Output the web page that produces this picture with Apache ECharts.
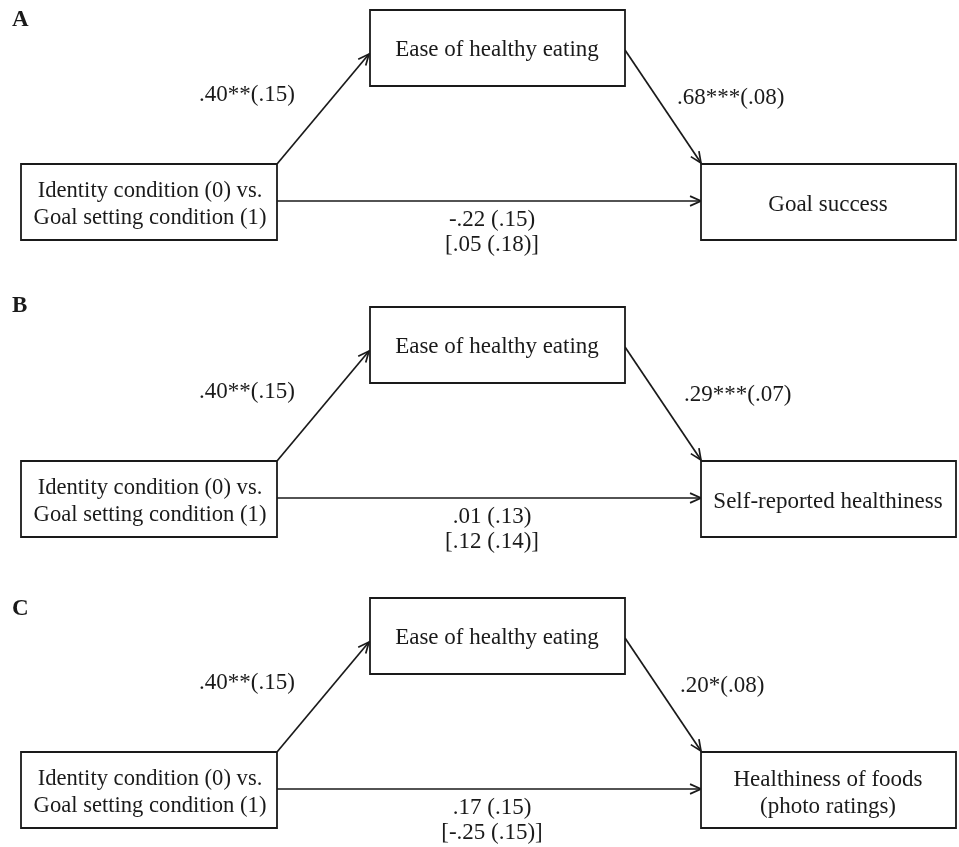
<!DOCTYPE html>
<html>
<head>
<meta charset="utf-8">
<title>Mediation models</title>
<script src="https://cdn.jsdelivr.net/npm/echarts@6/dist/echarts.min.js"></script>
<style>
  html, body { margin: 0; padding: 0; background: #fff; }
  #chart { width: 959px; height: 847px; }
</style>
</head>
<body>
<div id="chart"></div>
<script>
// Panel letters and the three mediation models
const panelLabels = ['A', 'B', 'C'];
const predictorText = 'Identity condition (0) vs.\nGoal setting condition (1)';
const mediatorText = ['Ease of healthy eating', 'Ease of healthy eating', 'Ease of healthy eating'];
const outcomeText = ['Goal success', 'Self-reported healthiness', 'Healthiness of foods\n(photo ratings)'];

// Path estimates (SE): a = predictor -> mediator, b = mediator -> outcome,
// direct = predictor -> outcome with mediator, total in brackets
const pathA = ['.40**(.15)', '.40**(.15)', '.40**(.15)'];
const pathB = ['.68***(.08)', '.29***(.07)', '.20*(.08)'];
const pathDirect = ['-.22 (.15)', '.01 (.13)', '.17 (.15)'];
const pathTotal = ['[.05 (.18)]', '[.12 (.14)]', '[-.25 (.15)]'];

// Vertical placement of each panel (top of mediator box), its letter,
// and the left edge of the b-path label
const panelTop = [10, 307, 598];
const letterY = [20, 306, 609];
const pathBLeft = [677, 684, 680];

const FONT = '"Liberation Serif", "Times New Roman", serif';
const INK = '#1a1a1a';

const chart = echarts.init(document.getElementById('chart'), null, { renderer: 'canvas' });

function renderPanel(params, api) {
  const i = params.dataIndex;
  const t = panelTop[i];
  const P = (x, y) => api.coord([x, y]);
  const children = [];

  function box(x0, y0, x1, y1) {
    const a = P(x0, y0), b = P(x1, y1);
    children.push({
      type: 'rect',
      shape: { x: a[0], y: a[1], width: b[0] - a[0], height: b[1] - a[1] },
      style: { fill: '#fff', stroke: INK, lineWidth: 1.8 }
    });
  }
  function arrow(x0, y0, x1, y1) {
    const a = P(x0, y0), b = P(x1, y1);
    children.push({
      type: 'line',
      shape: { x1: a[0], y1: a[1], x2: b[0], y2: b[1] },
      style: { stroke: INK, lineWidth: 1.7 }
    });
    const ang = Math.atan2(b[1] - a[1], b[0] - a[0]);
    const len = 12, spread = 0.42;
    children.push({
      type: 'polyline',
      shape: {
        points: [
          [b[0] - len * Math.cos(ang - spread), b[1] - len * Math.sin(ang - spread)],
          [b[0], b[1]],
          [b[0] - len * Math.cos(ang + spread), b[1] - len * Math.sin(ang + spread)]
        ]
      },
      style: { stroke: INK, lineWidth: 1.7, fill: null }
    });
  }
  function label(text, x, y, align, opts) {
    const p = P(x, y);
    children.push({
      type: 'text',
      style: Object.assign({
        text: text, x: p[0], y: p[1],
        align: align || 'center', verticalAlign: 'middle',
        fontFamily: FONT, fontSize: 23, lineHeight: 27, fill: INK
      }, opts || {})
    });
  }

  // paths
  arrow(277, t + 154, 369, t + 44);
  arrow(625, t + 40, 701, t + 153);
  arrow(277, t + 191, 701, t + 191);

  // boxes
  box(370, t, 625, t + 76);
  box(21, t + 154, 277, t + 230);
  box(701, t + 154, 956, t + 230);

  // box texts
  label(mediatorText[i], 497, t + 40);
  label(predictorText, 150, t + 195, 'center', { fontSize: 22.6 });
  label(outcomeText[i], 828, t + 195);

  // coefficients
  label(pathA[i], 247, t + 85);
  label(pathB[i], pathBLeft[i], t + 88, 'left');
  label(pathDirect[i], 492, t + 210);
  label(pathTotal[i], 492, t + 235);

  // panel letter
  label(panelLabels[i], 12, letterY[i], 'left', { fontWeight: 'bold', fontSize: 23 });

  return { type: 'group', children: children };
}

chart.setOption({
  animation: false,
  backgroundColor: '#fff',
  grid: { left: 0, right: 0, top: 0, bottom: 0 },
  xAxis: { type: 'value', min: 0, max: 959, show: false },
  yAxis: { type: 'value', min: 0, max: 847, inverse: true, show: false },
  series: [{
    type: 'custom',
    coordinateSystem: 'cartesian2d',
    clip: false,
    data: panelLabels.map((_, i) => [0, panelTop[i]]),
    renderItem: renderPanel
  }]
});
</script>
</body>
</html>
